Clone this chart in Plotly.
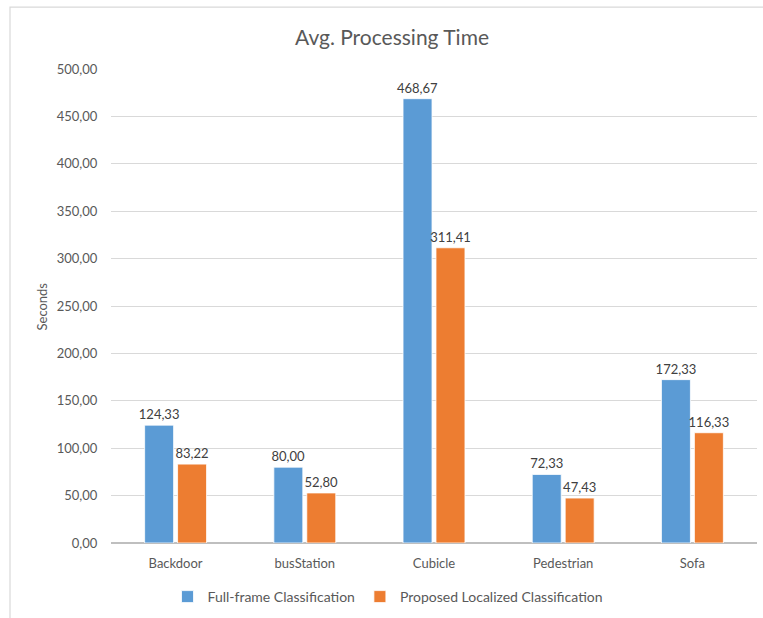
import plotly.graph_objects as go

categories = ["Backdoor", "busStation", "Cubicle", "Pedestrian", "Sofa"]
full_frame = [124.33, 80.00, 468.67, 72.33, 172.33]
localized = [83.22, 52.80, 311.41, 47.43, 116.33]
series_names = ["Full-frame Classification", "Proposed Localized Classification"]
y_ticks = [0, 50, 100, 150, 200, 250, 300, 350, 400, 450, 500]

BLUE = "#5B9BD5"
ORANGE = "#ED7D31"
TEXT = "#595959"
FONT = "Lato"

W, H = 763, 618
ML, MR, MT, MB = 111, 6, 69, 74
PW, PH = W - ML - MR, H - MT - MB


def px_x(px):
    return (px - ML) / PW


def px_y(py):
    return (H - MB - py) / PH


fig = go.Figure()
for name, vals, color in [(series_names[0], full_frame, BLUE),
                          (series_names[1], localized, ORANGE)]:
    fig.add_trace(go.Bar(
        x=categories, y=vals, name=name,
        marker=dict(color=color, line=dict(color="white", width=0.8)),
        texttemplate="%{y:.2f}", textposition="outside",
        constraintext="none",
        textfont=dict(family=FONT, size=13, color="#404040"),
        cliponaxis=False,
    ))

fig.update_layout(
    width=W, height=H,
    margin=dict(l=ML, r=MR, t=MT, b=MB),
    paper_bgcolor="white", plot_bgcolor="white",
    separators=",.",
    barmode="group", bargap=0.49, bargroupgap=0.12,
    font=dict(family=FONT, size=13, color=TEXT),
    showlegend=True,
    legend=dict(orientation="h", x=px_x(388), xanchor="center",
                y=px_y(597), yanchor="middle",
                font=dict(family=FONT, size=14, color=TEXT),
                itemwidth=30, traceorder="normal"),
    xaxis=dict(showgrid=False, ticks="outside", ticklen=8,
               tickcolor="rgba(0,0,0,0)", showline=False,
               tickfont=dict(family=FONT, size=13, color=TEXT)),
    yaxis=dict(range=[0, 500], tickvals=y_ticks, tickformat=".2f",
               showgrid=True, gridcolor="#D9D9D9", gridwidth=1,
               zeroline=True, zerolinecolor="#BFBFBF", zerolinewidth=1.5,
               ticks="outside", ticklen=10, tickcolor="rgba(0,0,0,0)",
               showline=False,
               tickfont=dict(family=FONT, size=13, color=TEXT)),
    annotations=[
        dict(text="Avg. Processing Time", x=px_x(392), y=px_y(36),
             xref="paper", yref="paper", showarrow=False,
             xanchor="center", yanchor="middle",
             font=dict(family=FONT, size=21, color=TEXT)),
        dict(text="Seconds", x=px_x(42), y=px_y(307),
             xref="paper", yref="paper", showarrow=False, textangle=-90,
             xanchor="center", yanchor="middle",
             font=dict(family=FONT, size=13, color=TEXT)),
    ],
    shapes=[dict(type="rect", xref="paper", yref="paper",
                 x0=px_x(10), x1=px_x(770), y0=px_y(625), y1=px_y(7),
                 line=dict(color="#D9D9D9", width=1.2), layer="below")],
)

fig.write_html("out.html")
